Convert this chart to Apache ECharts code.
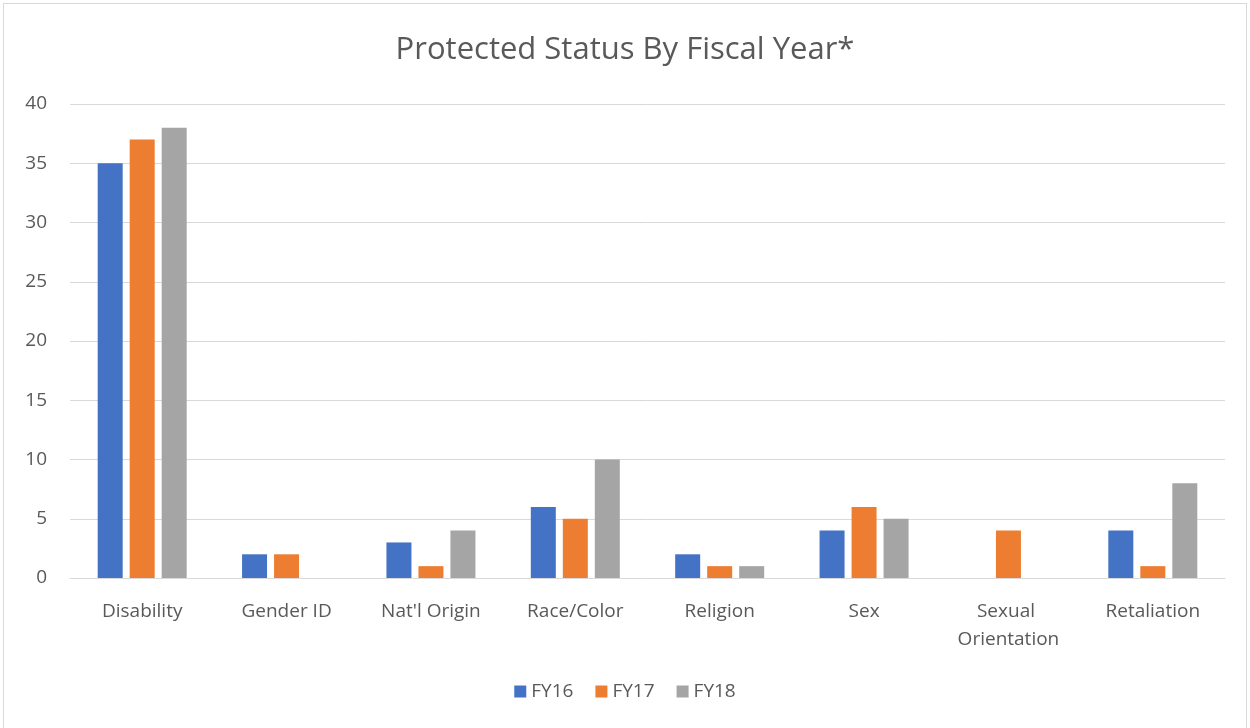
<!DOCTYPE html>
<html>
<head>
<meta charset="utf-8">
<script src="https://cdn.jsdelivr.net/npm/echarts@6/dist/echarts.min.js"></script>
<style>
html,body{margin:0;padding:0;background:#fff;}
#wrap{position:absolute;left:3px;top:3px;width:1244px;height:730px;border:1px solid #d9d9d9;box-sizing:border-box;}
#chart{position:absolute;left:0;top:0;width:1250px;height:728px;}
</style>
</head>
<body>
<div id="wrap"></div>
<div id="chart"></div>
<script>
const titleText = "Protected Status By Fiscal Year*";
const categories = ["Disability", "Gender ID", "Nat'l Origin", "Race/Color", "Religion", "Sex", "Sexual Orientation", "Retaliation"];
const seriesNames = ["FY16", "FY17", "FY18"];
const fy16 = [35, 2, 3, 6, 2, 4, 0, 4];
const fy17 = [37, 2, 1, 5, 1, 6, 4, 1];
const fy18 = [38, 0, 4, 10, 1, 5, 0, 8];
const colors = ["#4472C4", "#ED7D31", "#A5A5A5"];

const font = "'Open Sans', 'Noto Sans', sans-serif";
const chart = echarts.init(document.getElementById('chart'));
const values = [fy16, fy17, fy18];
chart.setOption({
  animation: false,
  title: {
    text: titleText, left: 'center', top: 30,
    textStyle: { fontFamily: font, fontSize: 31, fontWeight: 'normal', color: '#595959' }
  },
  legend: {
    data: seriesNames, bottom: 22, left: 'center',
    itemWidth: 12, itemHeight: 12, itemGap: 22,
    icon: 'rect',
    textStyle: { fontFamily: font, fontSize: 19, color: '#595959' }
  },
  grid: { left: 70, right: 25, top: 104, bottom: 150, containLabel: false },
  xAxis: {
    type: 'category', data: categories,
    axisLine: { lineStyle: { color: '#d9d9d9', width: 1 } },
    axisTick: { show: false },
    axisLabel: { fontFamily: font, fontSize: 19, color: '#595959', margin: 20, lineHeight: 28, width: 130, overflow: 'break', interval: 0 }
  },
  yAxis: {
    type: 'value', min: 0, max: 40, interval: 5,
    axisLine: { show: false }, axisTick: { show: false },
    splitLine: { lineStyle: { color: '#d9d9d9', width: 1 } },
    axisLabel: { fontFamily: font, fontSize: 19, color: '#595959', margin: 23 }
  },
  series: seriesNames.map((n, i) => ({
    name: n, type: 'bar', data: values[i], barWidth: 25, barGap: '28%',
    itemStyle: { color: colors[i] }
  }))
});
</script>
</body>
</html>
